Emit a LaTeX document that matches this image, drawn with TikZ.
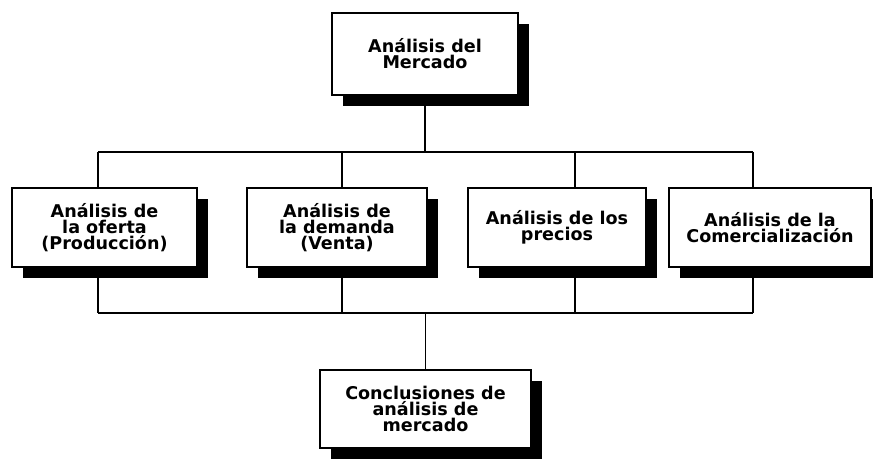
\documentclass[tikz,border=0pt]{standalone}
\usepackage{fontspec}
\setmainfont{DejaVu Sans}
\usetikzlibrary{shadows}

\begin{document}
\begin{tikzpicture}[x=0.02cm,y=-0.02cm,
    caja/.style={draw, line width=1.1pt, fill=white, align=center, inner sep=0pt,
        font=\bfseries\fontsize{10}{9}\selectfont,
        drop shadow={shadow xshift=0.22cm, shadow yshift=-0.22cm, fill=black, opacity=1}},
    linea/.style={line width=1.1pt}]

    \useasboundingbox (0,0) rectangle (873,462);

    % Caja principal
    \node[caja, minimum width=3.72cm, minimum height=1.64cm] (mercado) at (425,54) {Análisis del\\Mercado};

    % Segunda fila de cajas
    \node[caja, minimum width=3.70cm, minimum height=1.58cm] (oferta) at (104.5,227.5) {Análisis de\\la oferta\\(Producción)};
    \node[caja, minimum width=3.60cm, minimum height=1.58cm] (demanda) at (337,227.5) {Análisis de\\la demanda\\(Venta)};
    \node[caja, minimum width=3.56cm, minimum height=1.58cm] (precios) at (557,227.5) {Análisis de los\\precios};
    \node[caja, minimum width=4.04cm, minimum height=1.58cm] (comerc) at (770,227.5) {Análisis de la\\Comercialización};

    % Caja final
    \node[caja, minimum width=4.22cm, minimum height=1.56cm] (conclus) at (425.5,409) {Conclusiones de\\análisis de\\mercado};

    % Lineas verticales de cada caja a las barras
    \foreach \nombre/\x in {oferta/98, demanda/342, precios/575, comerc/753}{
        \coordinate (arriba-\nombre) at (\x,152);  % barra de arriba
        \coordinate (abajo-\nombre) at (\x,313);   % barra de abajo
        \draw[linea] (arriba-\nombre) -- (arriba-\nombre |- \nombre.north);
        \draw[linea] (\nombre.south -| abajo-\nombre) -- (abajo-\nombre);
    }

    % Barras horizontales
    \draw[linea] (arriba-oferta) -- (arriba-comerc);
    \draw[linea] (abajo-oferta) -- (abajo-comerc);

    % Union con la caja principal y la final
    \draw[linea] (mercado.south) -- (mercado.south |- arriba-oferta);
    \draw[linea] (abajo-oferta -| conclus.north) -- (conclus.north);
\end{tikzpicture}
\end{document}
